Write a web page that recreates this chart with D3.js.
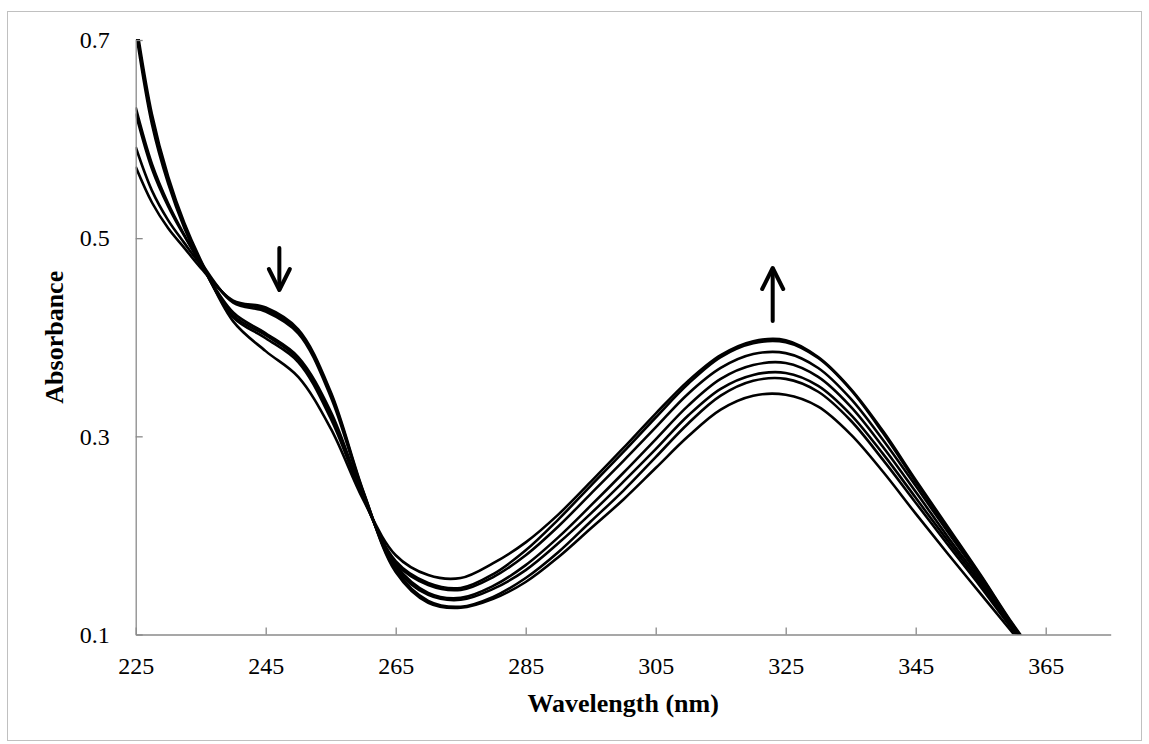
<!DOCTYPE html>
<html>
<head>
<meta charset="utf-8">
<script src="https://cdn.jsdelivr.net/npm/d3@7"></script>
<style>
  html, body { margin: 0; padding: 0; background: #fff; }
  svg { display: block; }
</style>
</head>
<body>
<svg id="chart" width="1149" height="744"></svg>
<script>
// ---- data ----
const wavelengths = [225, 227.5, 230, 232.5, 235, 240, 245, 250, 255, 260, 265, 270, 275, 280, 285, 290, 295, 300, 305, 310, 315, 320, 325, 330, 335, 340, 345, 350, 355, 360, 365];

const spectrum1 = [0.572, 0.536, 0.510, 0.490, 0.470, 0.437, 0.430, 0.408, 0.345, 0.245, 0.163, 0.132, 0.127, 0.136, 0.153, 0.178, 0.207, 0.236, 0.268, 0.300, 0.327, 0.341, 0.342, 0.330, 0.302, 0.264, 0.222, 0.181, 0.141, 0.101, 0.062];
const spectrum2 = [0.592, 0.548, 0.518, 0.495, 0.473, 0.436, 0.428, 0.406, 0.343, 0.244, 0.165, 0.134, 0.128, 0.138, 0.157, 0.183, 0.214, 0.245, 0.279, 0.313, 0.341, 0.356, 0.358, 0.345, 0.316, 0.276, 0.233, 0.190, 0.148, 0.104, 0.064];
const spectrum3 = [0.626, 0.570, 0.532, 0.502, 0.476, 0.435, 0.426, 0.404, 0.340, 0.243, 0.167, 0.140, 0.135, 0.146, 0.165, 0.192, 0.222, 0.254, 0.287, 0.321, 0.348, 0.362, 0.364, 0.351, 0.322, 0.282, 0.238, 0.194, 0.151, 0.106, 0.065];
const spectrum4 = [0.632, 0.575, 0.535, 0.503, 0.474, 0.425, 0.404, 0.380, 0.325, 0.240, 0.170, 0.142, 0.137, 0.149, 0.170, 0.198, 0.230, 0.263, 0.297, 0.331, 0.358, 0.372, 0.374, 0.360, 0.330, 0.289, 0.244, 0.198, 0.154, 0.107, 0.065];
const spectrum5 = [0.710, 0.615, 0.555, 0.510, 0.475, 0.422, 0.402, 0.378, 0.322, 0.239, 0.172, 0.150, 0.145, 0.158, 0.180, 0.209, 0.242, 0.275, 0.309, 0.343, 0.369, 0.383, 0.384, 0.369, 0.338, 0.296, 0.250, 0.203, 0.157, 0.108, 0.066];
const spectrum6 = [0.715, 0.620, 0.558, 0.512, 0.476, 0.420, 0.399, 0.375, 0.318, 0.238, 0.174, 0.152, 0.147, 0.161, 0.185, 0.216, 0.250, 0.284, 0.319, 0.353, 0.380, 0.394, 0.395, 0.379, 0.347, 0.303, 0.254, 0.206, 0.159, 0.109, 0.066];
const spectrum7 = [0.720, 0.625, 0.562, 0.515, 0.478, 0.416, 0.386, 0.360, 0.308, 0.236, 0.180, 0.160, 0.157, 0.172, 0.193, 0.221, 0.254, 0.288, 0.323, 0.356, 0.382, 0.396, 0.397, 0.380, 0.348, 0.305, 0.256, 0.208, 0.160, 0.110, 0.066];

const series = [spectrum1, spectrum2, spectrum3, spectrum4, spectrum5, spectrum6, spectrum7];

const xTicks = [225, 245, 265, 285, 305, 325, 345, 365];
const yTicks = [0.1, 0.3, 0.5, 0.7];
const xDomain = [225, 375];
const yDomain = [0.1, 0.7];
const xTitle = "Wavelength (nm)";
const yTitle = "Absorbance";

// arrow annotations: [wavelength, tail absorbance, tip absorbance]
const arrowDown = [247.1, 0.490, 0.4477];
const arrowUp = [323.0, 0.4164, 0.4699];

// ---- drawing ----
const svg = d3.select("#chart");
const W = 1149, H = 744;
const L = 135.7, R = 1110.7, T = 40, B = 634.5;

svg.append("rect").attr("x", 7.5).attr("y", 11.5).attr("width", 1134).attr("height", 729)
  .attr("fill", "#fff").attr("stroke", "#c0c0c0").attr("stroke-width", 1);

const x = d3.scaleLinear().domain(xDomain).range([L, R]);
const y = d3.scaleLinear().domain(yDomain).range([B, T]);

const axisColor = "#8a8a8a";
const font = "'Liberation Serif', 'Times New Roman', serif";

// clip
svg.append("clipPath").attr("id", "plotclip")
  .append("rect").attr("x", L).attr("y", T - 1).attr("width", R - L).attr("height", B - T + 1);

// lines
const line = d3.line()
  .x((d, i) => x(wavelengths[i]))
  .y(d => y(d))
  .curve(d3.curveCatmullRom.alpha(0.5));

svg.append("g").attr("clip-path", "url(#plotclip)")
  .selectAll("path").data(series).join("path")
  .attr("d", d => line(d))
  .attr("fill", "none")
  .attr("stroke", "#000")
  .attr("stroke-width", 2.6)
  .attr("stroke-linejoin", "round");

// x axis
const gx = svg.append("g").attr("transform", `translate(0,${B})`)
  .call(d3.axisBottom(x).tickValues(xTicks).tickSizeInner(-7).tickSizeOuter(0).tickPadding(22.5).tickFormat(d3.format("d")));
gx.select(".domain").attr("stroke", axisColor).attr("stroke-width", 1.3);
gx.selectAll(".tick line").attr("stroke", axisColor).attr("stroke-width", 1.3);
gx.selectAll(".tick text").attr("fill", "#000").style("font-family", font).style("font-size", "24px");

// y axis
const gy = svg.append("g").attr("transform", `translate(${L},0)`)
  .call(d3.axisLeft(y).tickValues(yTicks).tickSizeInner(-7).tickSizeOuter(0).tickPadding(26).tickFormat(d3.format(".1f")));
gy.select(".domain").attr("stroke", axisColor).attr("stroke-width", 1.3);
gy.selectAll(".tick line").attr("stroke", axisColor).attr("stroke-width", 1.3);
gy.selectAll(".tick text").attr("fill", "#000").style("font-family", font).style("font-size", "24px");

// titles
svg.append("text")
  .attr("x", (L + R) / 2).attr("y", 712)
  .attr("text-anchor", "middle")
  .style("font-family", font).style("font-size", "26px").style("font-weight", "bold")
  .text(xTitle);

svg.append("text")
  .attr("transform", `translate(63,${(T + B) / 2}) rotate(-90)`)
  .attr("text-anchor", "middle")
  .style("font-family", font).style("font-size", "26px").style("font-weight", "bold")
  .text(yTitle);

// arrows
function drawArrow(a) {
  const ax = x(a[0]), y0 = y(a[1]), y1 = y(a[2]);
  const dir = y1 > y0 ? 1 : -1;
  const g = svg.append("g").attr("stroke", "#000").attr("stroke-width", 4).attr("fill", "none")
    .attr("stroke-linecap", "round").attr("stroke-linejoin", "round");
  g.append("line").attr("x1", ax).attr("y1", y0).attr("x2", ax).attr("y2", y1 - dir * 1);
  g.append("polyline").attr("points", `${ax - 10.5},${y1 - dir * 21} ${ax},${y1} ${ax + 10.5},${y1 - dir * 21}`);
}
drawArrow(arrowDown);
drawArrow(arrowUp);
</script>
</body>
</html>
